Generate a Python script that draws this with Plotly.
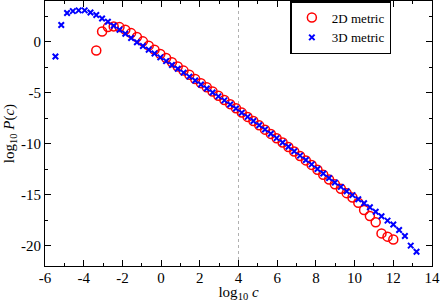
import plotly.graph_objects as go

# log10 c grid (factor-2 bins)
x_3d = [-5.46, -5.16, -4.86, -4.56, -4.26, -3.95, -3.65, -3.35, -3.05, -2.75,
        -2.45, -2.15, -1.85, -1.55, -1.25, -0.94, -0.64, -0.34, -0.04, 0.26,
        0.56, 0.86, 1.16, 1.46, 1.76, 2.06, 2.36, 2.66, 2.96, 3.27,
        3.57, 3.87, 4.17, 4.47, 4.77, 5.07, 5.37, 5.67, 5.97, 6.28,
        6.58, 6.88, 7.18, 7.48, 7.78, 8.08, 8.38, 8.68, 8.98, 9.29,
        9.59, 9.89, 10.19, 10.49, 10.79, 11.09, 11.39, 11.70, 12.00, 12.30,
        12.60, 12.90, 13.20]
y_3d = [-1.44, 1.64, 2.82, 3.01, 3.08, 3.08, 2.88, 2.62, 2.29, 1.96,
        1.57, 1.18, 0.78, 0.37, -0.05, -0.42, -0.78, -1.15, -1.53, -1.90,
        -2.28, -2.65, -3.03, -3.42, -3.80, -4.19, -4.58, -4.97, -5.36, -5.75,
        -6.15, -6.55, -6.96, -7.37, -7.78, -8.19, -8.61, -9.03, -9.45, -9.88,
        -10.30, -10.74, -11.17, -11.60, -12.03, -12.48, -12.92, -13.36, -13.80, -14.24,
        -14.66, -15.05, -15.45, -15.85, -16.24, -16.68, -17.12, -17.55, -17.92, -18.47,
        -19.06, -20.00, -20.60]

x_2d = [-3.35, -3.05, -2.75, -2.45, -2.15, -1.85, -1.55, -1.25, -0.94, -0.64,
        -0.34, -0.04, 0.26, 0.56, 0.86, 1.16, 1.46, 1.76, 2.06, 2.36,
        2.66, 2.96, 3.27, 3.57, 3.87, 4.17, 4.47, 4.77, 5.07, 5.37,
        5.67, 5.97, 6.28, 6.58, 6.88, 7.18, 7.48, 7.78, 8.08, 8.38,
        8.68, 8.98, 9.29, 9.59, 9.89, 10.19, 10.49, 10.79, 11.09, 11.39,
        11.70, 12.00]
y_2d = [-0.85, 1.01, 1.44, 1.51, 1.44, 1.18, 0.85, 0.46, 0.04, -0.38,
        -0.79, -1.20, -1.60, -2.01, -2.42, -2.83, -3.24, -3.65, -4.06, -4.47,
        -4.88, -5.30, -5.71, -6.12, -6.53, -6.95, -7.37, -7.78, -8.20, -8.62,
        -9.04, -9.46, -9.89, -10.32, -10.76, -11.20, -11.64, -12.08, -12.55, -13.05,
        -13.52, -13.98, -14.42, -14.85, -15.28, -15.80, -16.50, -17.10, -17.70, -18.80,
        -19.12, -19.40]

x_tickvals = [-6, -4, -2, 0, 2, 4, 6, 8, 10, 12, 14]
x_ticktext = ["-6", "-4", "-2", "0", "2", "4", "6", "8", "10", "12", "14"]
y_tickvals = [-20, -15, -10, -5, 0]
y_ticktext = ["-20", "-15", "-10", "-5", "0"]
ref_line_x = 4

FONT = "Liberation Serif, Times New Roman, serif"

fig = go.Figure()
fig.add_trace(go.Scatter(
    x=x_2d, y=y_2d, mode="markers", name="2D metric",
    marker=dict(symbol="circle-open", size=9, color="#ff0000", line=dict(width=1.5, color="#ff0000")),
))
fig.add_trace(go.Scatter(
    x=x_3d, y=y_3d, mode="markers", name="3D metric",
    marker=dict(symbol="x-thin-open", size=5.5, color="#0000ff", line=dict(width=2, color="#0000ff")),
))

fig.add_shape(type="line", xref="x", yref="paper", x0=ref_line_x, x1=ref_line_x, y0=0, y1=1,
              line=dict(color="#b0b0b0", width=1, dash="dot"), layer="below")

axis_common = dict(
    showline=True, linecolor="#000000", linewidth=1, mirror="allticks",
    ticks="inside", ticklen=6, tickwidth=1, tickcolor="#000000",
    showgrid=False, zeroline=False, automargin=False,
    tickfont=dict(family=FONT, size=15, color="#000000"),
)

fig.update_xaxes(
    range=[-6, 14], tickvals=x_tickvals, ticktext=x_ticktext,
    minor=dict(dtick=1, ticks="inside", ticklen=3, tickcolor="#000000", showgrid=False),
    title=dict(text="log<sub>10</sub> <i>c</i>", font=dict(family=FONT, size=15, color="#000000"), standoff=0),
    ticklabelstandoff=-2,
    **axis_common,
)
fig.update_yaxes(
    range=[-22, 4], tickvals=y_tickvals, ticktext=y_ticktext,
    minor=dict(dtick=2.5, tick0=0, ticks="inside", ticklen=3, tickcolor="#000000", showgrid=False),
    title=dict(text="log<sub>10</sub> <i>P</i>(<i>c</i>)", font=dict(family=FONT, size=15, color="#000000"), standoff=2),
    **axis_common,
)

fig.update_layout(
    width=442, height=302,
    margin=dict(l=45, r=10, t=1, b=36),
    paper_bgcolor="#ffffff", plot_bgcolor="#ffffff",
    showlegend=True,
    legend=dict(
        x=0.634, y=1.0, xanchor="left", yanchor="top",
        bgcolor="white", bordercolor="black", borderwidth=1.5,
        font=dict(family=FONT, size=13, color="black"),
        itemwidth=30, tracegroupgap=0, orientation="v",
    ),
    font=dict(family=FONT, color="#000000"),
)

fig.write_html("out.html", config={"displayModeBar": False},
               post_script="document.body.style.margin='0';document.body.style.padding='0';")
